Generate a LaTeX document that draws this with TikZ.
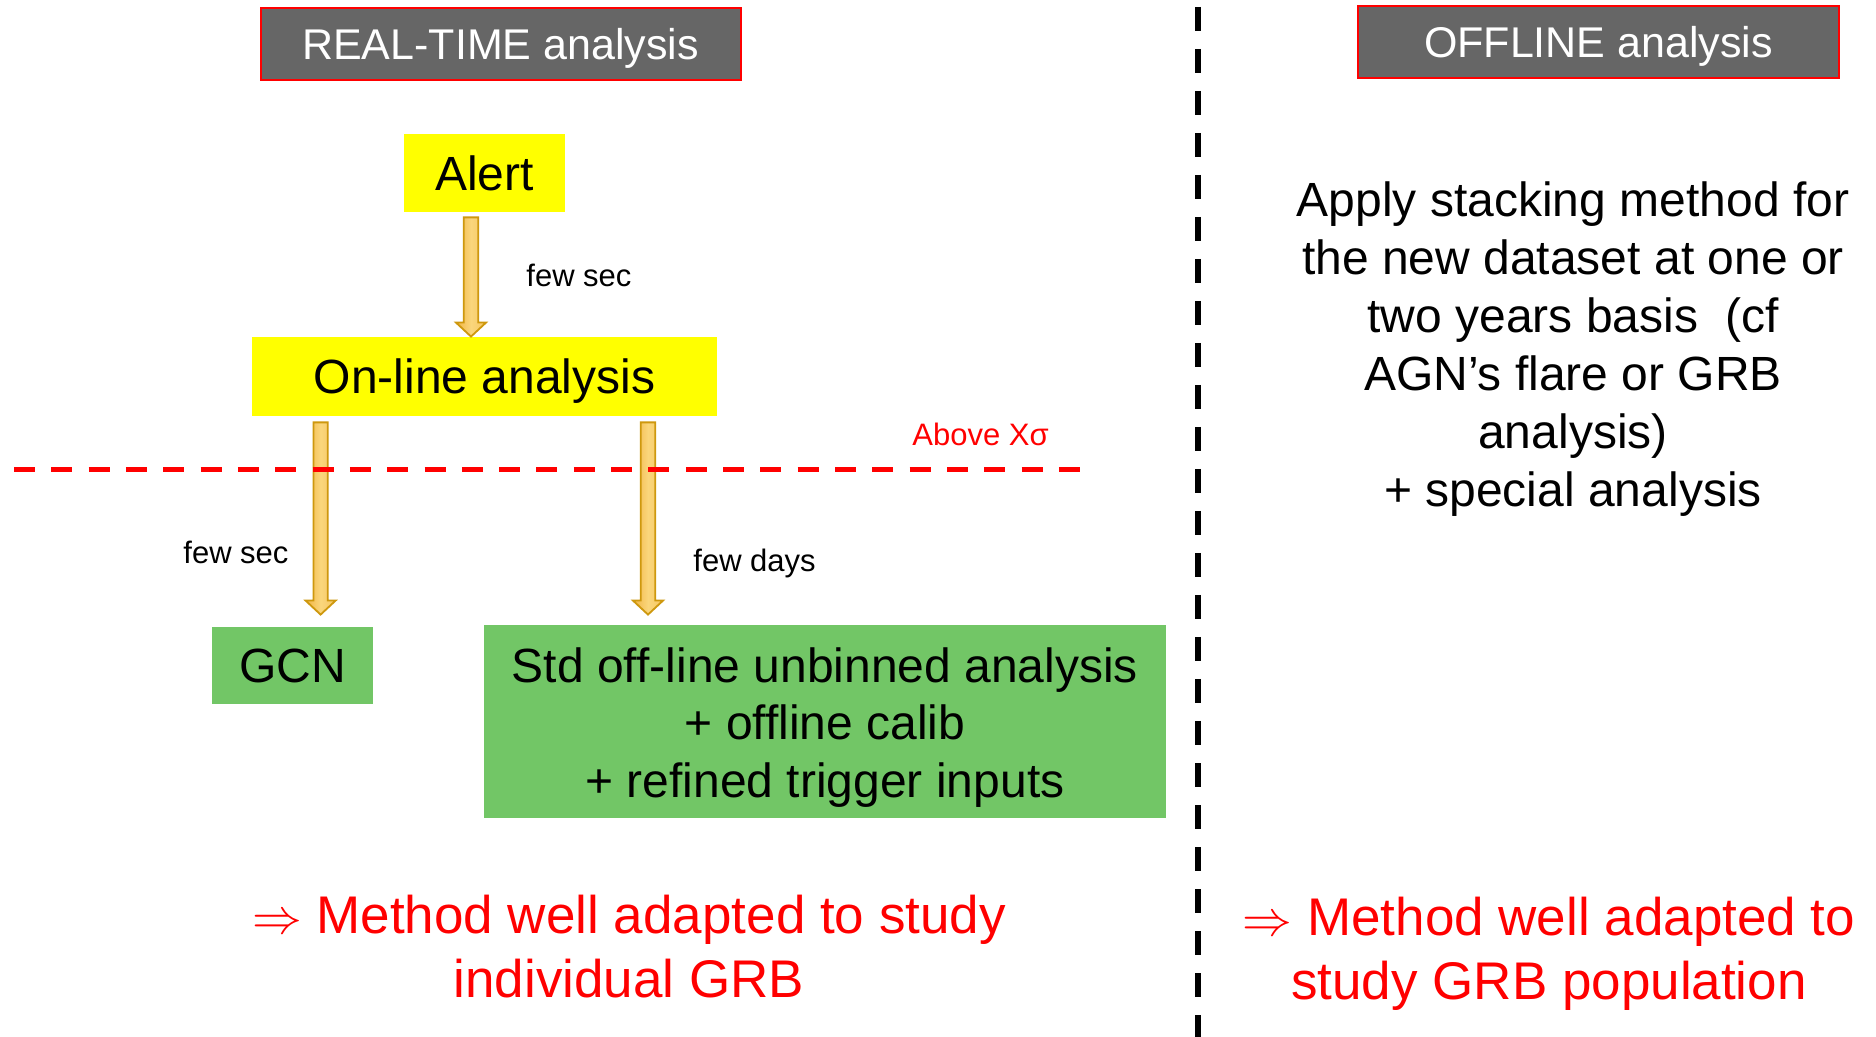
\documentclass[tikz,border=0pt]{standalone}
\usepackage{fontspec}
\setmainfont{Liberation Sans}
\usetikzlibrary{calc}

\definecolor{hdrgray}{RGB}{102,102,102}
\definecolor{boxyellow}{RGB}{255,255,0}
\definecolor{boxgreen}{RGB}{114,198,102}
\definecolor{golddark}{RGB}{241,180,66}
\definecolor{goldlight}{RGB}{250,214,124}
\definecolor{goldmid}{RGB}{246,198,96}
\definecolor{goldedge}{RGB}{206,152,14}

\tikzset{
  header/.style={fill=hdrgray, draw=red, line width=1pt, text=white,
    font=\fontsize{21.5}{26}\selectfont, inner sep=0pt,
    text height=15.4pt, text depth=0pt, minimum height=36pt},
  flowbox/.style={inner sep=0pt, font=\fontsize{24}{28.75}\selectfont},
  capbox/.style={flowbox, text height=17.2pt, text depth=0pt},
  yellowbox/.style={capbox, fill=boxyellow},
  greenbox/.style={flowbox, fill=boxgreen, align=center},
  lbl/.style={inner sep=0pt, font=\fontsize{15.5}{18}\selectfont},
  bodytext/.style={inner sep=0pt, align=center, font=\fontsize{24}{28.95}\selectfont},
  concl/.style={inner sep=0pt, align=center, text=red, font=\fontsize{26.5}{32}\selectfont},
  goldshaft/.style={draw=goldedge, line width=0.9pt, line join=miter,
    left color=golddark, right color=goldmid, middle color=goldlight},
  threshold/.style={draw=red, line width=2.5pt, dash pattern=on 10.5pt off 8.16pt},
  divider/.style={draw=black, line width=3pt, dash pattern=on 12pt off 9pt},
}

% block arrow from a start point (#1) down to a tip (#2), vertically below
\newcommand\goldarrow[2]{%
  \path[goldshaft] let \p1=#1, \p2=#2 in
    (\x1-3.6pt,\y1) -- (\x1+3.6pt,\y1) -- (\x1+3.6pt,\y2+7pt) --
    (\x1+7.5pt,\y2+7pt) -- (\x1,\y2) -- (\x1-7.5pt,\y2+7pt) --
    (\x1-3.6pt,\y2+7pt) -- cycle;}

\begin{document}
\begin{tikzpicture}[x=0.5pt,y=-0.5pt]
\useasboundingbox (0,0) rectangle (1876,1037);
\fill[white] (0,0) rectangle (1876,1037);

% column headers
\node[header, minimum width=240pt] (rt) at (500.5,44) {REAL-TIME analysis};
\node[header, minimum width=240.5pt] (off) at (1598.5,42) {OFFLINE analysis};

% real-time chain
\node[yellowbox, minimum width=80.5pt, minimum height=39pt] (alert) at (484.5,173) {Alert};
\node[yellowbox, minimum width=232.5pt, minimum height=39.5pt] (online) at (484.5,376.5) {On-line analysis};
\node[greenbox, capbox, minimum width=80.5pt, minimum height=38.5pt] (gcn) at (292.5,665.5) {GCN};
\node[greenbox, minimum width=341pt, minimum height=96.5pt] (std) at (825,721.5) {};
\node[flowbox, align=center] (stdtext) at (825,727.5)
  {Std off-line unbinned analysis\\+ offline calib\\+ refined trigger inputs};

% arrows between the stages
\goldarrow{($(alert.south)+(-13.5,5)$)}{($(online.north)$)}
\goldarrow{($(online.south west)+(69,6)$)}{($(gcn.north)+(0,-12)$)}
\goldarrow{($(online.south)+(163.5,6)$)}{($(std.north)+(0,-10)$)}

% delays
\node[lbl, anchor=base west] (fs1) at (526,287) {few sec};
\node[lbl, anchor=base west] (fs2) at (183,564) {few sec};
\node[lbl, anchor=base west] (fd) at (693,572) {few days};

% significance threshold
\coordinate (thA) at (14,470);
\coordinate (thB) at (1080,470);
\draw[threshold] (thA) -- (thB);
\node[lbl, text=red, anchor=base west] (thr) at (912,446) {Above Xσ};

% separation between the two columns
\coordinate (dvA) at (1198,7);
\coordinate (dvB) at (1198,1040);
\draw[divider] (dvA) -- (dvB);

% offline description
\node[bodytext] (stack) at (1573,349)
  {Apply stacking method for\\the new dataset at one or\\two years basis\ \ (cf\\AGN’s flare or GRB\\analysis)\\+ special analysis};

% conclusions
\node[concl] (cl) at (629,946.6) {$\Rightarrow$ Method well adapted to study\\individual GRB};
\node[concl] (cr) at (1549,954) {$\Rightarrow$ Method well adapted to\\study GRB population};
\end{tikzpicture}
\end{document}
